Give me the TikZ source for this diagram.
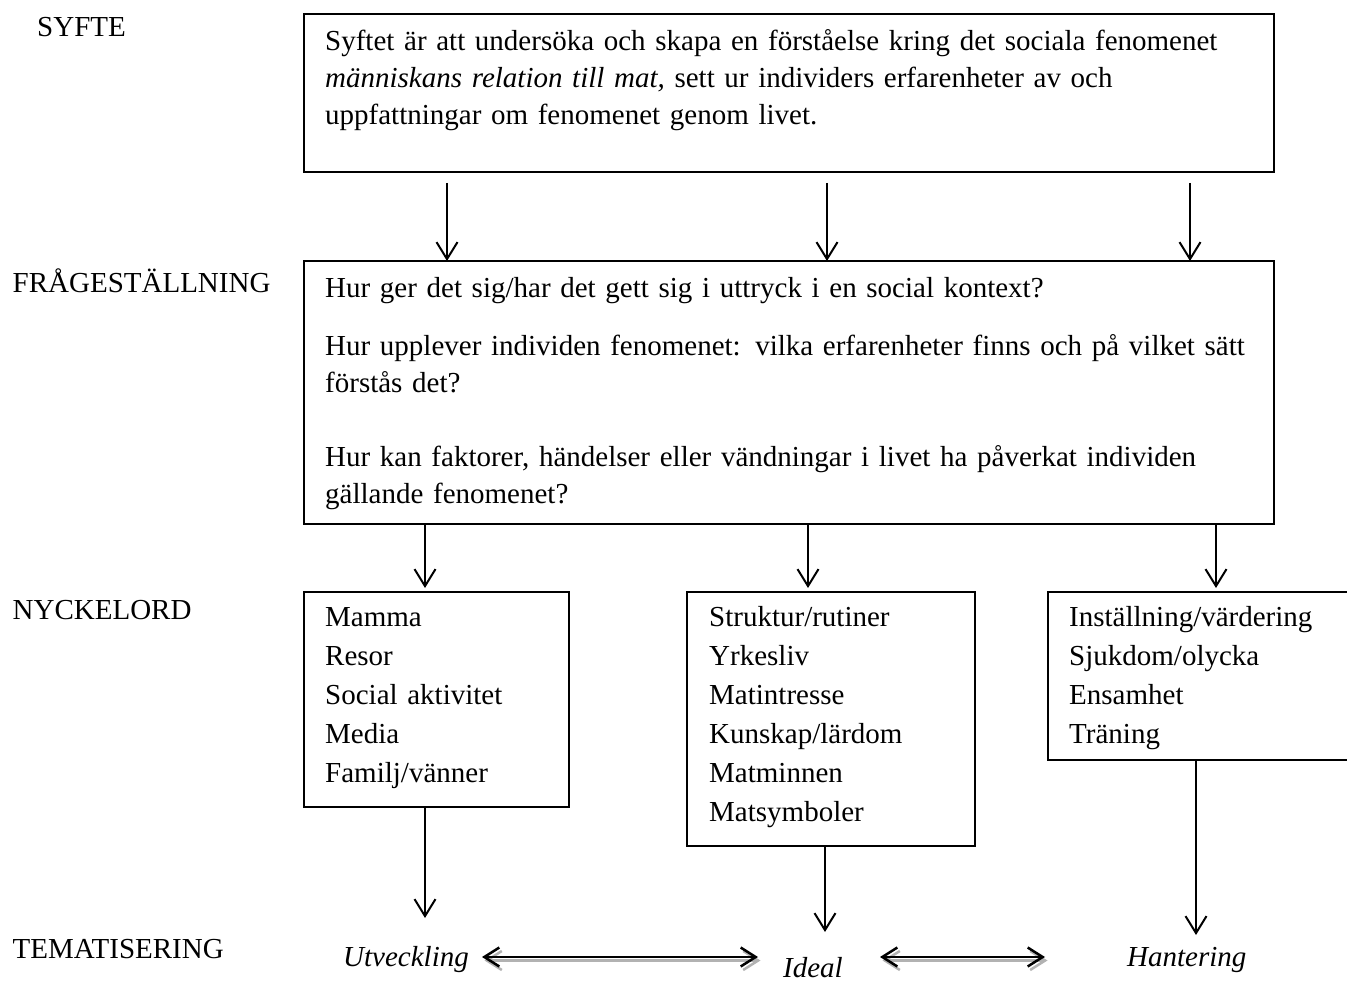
\documentclass[tikz,border=0pt]{standalone}
\usepackage{fontspec}
\setmainfont{Liberation Serif}
\usetikzlibrary{arrows.meta,calc}
\newcommand\fsa{\fontsize{29}{37}\selectfont}
\newcommand\fsb{\fontsize{29}{39}\selectfont}
\begin{document}
\begin{tikzpicture}[x=1pt,y=-1pt,
  box/.style={draw,line width=2pt,anchor=north west,inner sep=0pt,outer sep=0pt},
  txt/.style={anchor=north west,inner sep=0pt,align=left,font=\fsa},
  lst/.style={anchor=north west,inner sep=0pt,align=left,font=\fsb},
  lbl/.style={anchor=base west,inner sep=0pt,font=\fsa},
  arr/.style={line width=2pt,-{Straight Barb[length=17pt,width=21pt,line width=2pt]}},
  dbl/.style={line width=2.5pt,{Straight Barb[length=15pt,width=19pt,line width=2.5pt]}-{Straight Barb[length=15pt,width=19pt,line width=2.5pt]}},
  shd/.style={dbl,draw=black!30}
]
\useasboundingbox (0,0) rectangle (1347,981);
\clip (0,0) rectangle (1347,981);

% side labels
\node[lbl] (lsyfte) at (37,37) {SYFTE};
\node[lbl] (lfrage) at (12.5,293) {FRÅGESTÄLLNING};
\node[lbl] (lnyckel) at (12.5,619) {NYCKELORD};
\node[lbl] (ltema) at (12.5,958) {TEMATISERING};

% boxes
\node[box,minimum width=970pt,minimum height=158pt] (b1) at (304,14) {};
\node[box,minimum width=970pt,minimum height=263pt] (b2) at (304,261) {};
\node[box,minimum width=265pt,minimum height=215pt] (b3a) at (304,592) {};
\node[box,minimum width=288pt,minimum height=254pt] (b3b) at (687,592) {};
\node[box,minimum width=330pt,minimum height=168pt] (b3c) at (1048,592) {};

% texts in boxes
\node[txt,text width=940pt] (t1) at (325,24.1) {\strut Syftet är att undersöka och skapa en förståelse kring det sociala fenomenet\\
\textit{människans relation till mat,} sett ur individers erfarenheter av och\\
uppfattningar om fenomenet genom livet.};
\node[txt,text width=940pt] (t2a) at (325,271.1) {\strut Hur ger det sig/har det gett sig i uttryck i en social kontext?};
\node[txt,text width=940pt] (t2b) at (325,329.1) {\strut Hur upplever individen fenomenet: vilka erfarenheter finns och på vilket sätt\\
förstås det?};
\node[txt,text width=940pt] (t2c) at (325,440.1) {\strut Hur kan faktorer, händelser eller vändningar i livet ha påverkat individen\\
gällande fenomenet?};
\node[lst,text width=240pt] (t3a) at (325,599) {\strut Mamma\\Resor\\Social aktivitet\\Media\\Familj/vänner};
\node[lst,text width=260pt] (t3b) at (709,599) {\strut Struktur/rutiner\\Yrkesliv\\Matintresse\\Kunskap/lärdom\\Matminnen\\Matsymboler};
\node[lst,text width=280pt] (t3c) at (1069,599) {\strut Inställning/värdering\\Sjukdom/olycka\\Ensamhet\\Träning};

% theme labels
\node[lbl] (ut) at (343,966) {\textit{Utveckling}};
\node[lbl] (id) at (783,977) {\textit{Ideal}};
\node[lbl] (ha) at (1127,966) {\textit{Hantering}};

% arrows box1 -> box2
\draw[arr] ($(b1.south west)+(143,11)$) -- ($(b2.north west)+(143,0)$);
\draw[arr] ($(b1.south west)+(523,11)$) -- ($(b2.north west)+(523,0)$);
\draw[arr] ($(b1.south west)+(886,11)$) -- ($(b2.north west)+(886,0)$);

% arrows box2 -> box3
\draw[arr] ($(b2.south west)+(121,0)$) -- ($(b3a.north west)+(121,-4)$);
\draw[arr] ($(b2.south west)+(504,0)$) -- ($(b3b.north west)+(121,-4)$);
\draw[arr] ($(b2.south west)+(912,0)$) -- ($(b3c.north west)+(168,-4)$);

% arrows box3 -> themes
\draw[arr] ($(b3a.south west)+(121,0)$) -- ($(ut.base west)+(82,-48)$);
\draw[arr] ($(b3b.south west)+(138,0)$) -- ($(id.base west)+(42,-45)$);
\draw[arr] ($(b3c.south west)+(148,0)$) -- ($(ha.base west)+(69,-31)$);

% double arrows with shadow
\begin{scope}[transform canvas={shift={(2.5pt,-3.5pt)}}]
\draw[shd] ($(ut.base west)+(139,-9)$) -- ($(id.base west)+(-25,-20)$);
\draw[shd] ($(id.base west)+(97,-20)$) -- ($(ha.base west)+(-82,-9)$);
\end{scope}
\draw[dbl] ($(ut.base west)+(139,-9)$) -- ($(id.base west)+(-25,-20)$);
\draw[dbl] ($(id.base west)+(97,-20)$) -- ($(ha.base west)+(-82,-9)$);
\end{tikzpicture}
\end{document}
